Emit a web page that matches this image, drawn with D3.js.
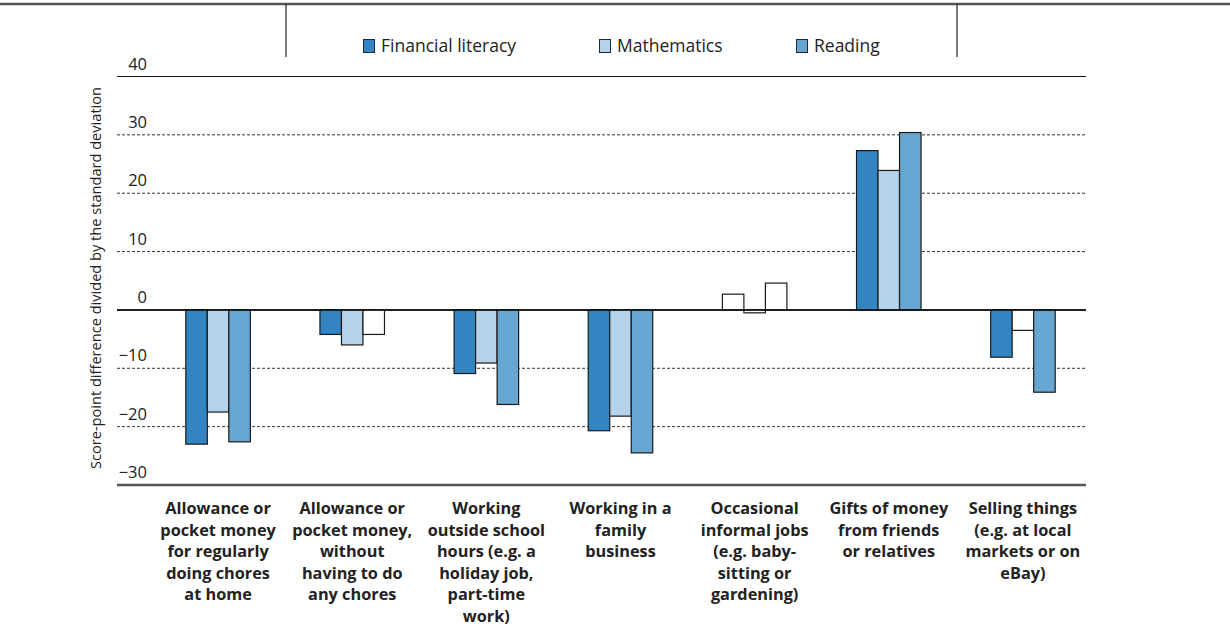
<!DOCTYPE html>
<html><head><meta charset="utf-8">
<script src="https://cdn.jsdelivr.net/npm/d3@7"></script>
<style>body{margin:0;background:#fff;} svg{display:block;font-family:"Open Sans",sans-serif;}</style>
</head><body><svg id="c" width="1230" height="631"></svg>
<script>
const categories = [
  ["Allowance or","pocket money","for regularly","doing chores","at home"],
  ["Allowance or","pocket money,","without","having to do","any chores"],
  ["Working","outside school","hours (e.g. a","holiday job,","part-time","work)"],
  ["Working in a","family","business"],
  ["Occasional","informal jobs","(e.g. baby-","sitting or","gardening)"],
  ["Gifts of money","from friends","or relatives"],
  ["Selling things","(e.g. at local","markets or on","eBay)"]
];
const seriesNames = ["Financial literacy","Mathematics","Reading"];
const financialLiteracy = [-23.0, -4.2, -10.9, -20.7, 2.7, 27.3, -8.1];
const mathematics = [-17.5, -6.0, -9.1, -18.2, -0.5, 23.9, -3.5];
const reading = [-22.6, -4.2, -16.2, -24.5, 4.6, 30.4, -14.1];
const sigFinancial = [true, true, true, true, false, true, true];
const sigMath = [true, true, true, true, false, true, false];
const sigReading = [true, false, true, true, false, true, true];
const yTicks = [-30,-20,-10,0,10,20,30,40];
const colors = ["#3385c1","#b4d2e9","#67a6d0"];

const values = [financialLiteracy, mathematics, reading];
const sigs = [sigFinancial, sigMath, sigReading];

const svg = d3.select("#c");
const y = d3.scaleLinear().domain([-30,40]).range([485,76.5]);
const x0 = d3.scaleBand().domain(d3.range(categories.length)).range([151,1090]).paddingInner(0.519).paddingOuter(0.2595);
const x1 = d3.scaleBand().domain(d3.range(3)).range([0, x0.bandwidth()]);
const plotL = 117, plotR = 1086;

// top rule and legend box
svg.append("line").attr("x1",0).attr("x2",1230).attr("y1",4).attr("y2",4).attr("stroke","#555").attr("stroke-width",2.5);
[286,957].forEach(xx=>svg.append("line").attr("x1",xx).attr("x2",xx).attr("y1",4).attr("y2",57).attr("stroke","#222").attr("stroke-width",1.2));
const legX = [363,599,796];
seriesNames.forEach((s,i)=>{
  svg.append("rect").attr("x",legX[i]+0.5).attr("y",39.5).attr("width",11).attr("height",13).attr("fill",colors[i]).attr("stroke","#1a2a3a").attr("stroke-width",1);
  svg.append("text").attr("x",legX[i]+18).attr("y",52).attr("font-size",17.5).attr("fill","#222").text(s);
});

// grid
yTicks.forEach(t=>{
  const ln = svg.append("line").attr("x1",plotL).attr("x2",plotR).attr("y1",y(t)).attr("y2",y(t));
  if (t===40) ln.attr("stroke","#111").attr("stroke-width",1.2);
  else if (t===-30) ln.attr("stroke","#555").attr("stroke-width",2.5);
  else if (t===0) ln.attr("stroke","#111").attr("stroke-width",1.5);
  else ln.attr("stroke","#333").attr("stroke-width",1).attr("stroke-dasharray","3,2");
});

// y axis labels
const yAxis = d3.axisLeft(y).tickValues(yTicks).tickSize(0).tickPadding(0).tickFormat(d=>d<0?"\u2212"+Math.abs(d):d);
const ga = svg.append("g").attr("transform","translate(147,0)").call(yAxis);
ga.select(".domain").remove();
ga.selectAll("text").attr("font-size",16.5).attr("font-family","'Open Sans',sans-serif").attr("fill","#222").attr("dy","-0.45em");

svg.append("text").attr("transform","translate(101,278) rotate(-90)").attr("text-anchor","middle").attr("font-size",14.6).attr("fill","#222").text("Score-point difference divided by the standard deviation");

// bars
const g = svg.append("g");
categories.forEach((c,ci)=>{
  values.forEach((vals,si)=>{
    const v = vals[ci];
    g.append("rect")
      .attr("x", x0(ci)+x1(si))
      .attr("width", x1.bandwidth())
      .attr("y", y(Math.max(0,v)))
      .attr("height", Math.abs(y(v)-y(0)))
      .attr("fill", sigs[si][ci] ? colors[si] : "#fff")
      .attr("stroke","#1a1a1a").attr("stroke-width",1.2);
  });
});
svg.append("line").attr("x1",plotL).attr("x2",plotR).attr("y1",y(0)).attr("y2",y(0)).attr("stroke","#111").attr("stroke-width",1.5);

// category labels
categories.forEach((lines,ci)=>{
  const t = svg.append("text").attr("text-anchor","middle").attr("font-size",16.3).attr("font-weight","bold").attr("fill","#222");
  lines.forEach((l,li)=>{
    t.append("tspan").attr("x", x0(ci)+x0.bandwidth()/2).attr("y", 514 + li*21.5).text(l);
  });
});
</script></body></html>
